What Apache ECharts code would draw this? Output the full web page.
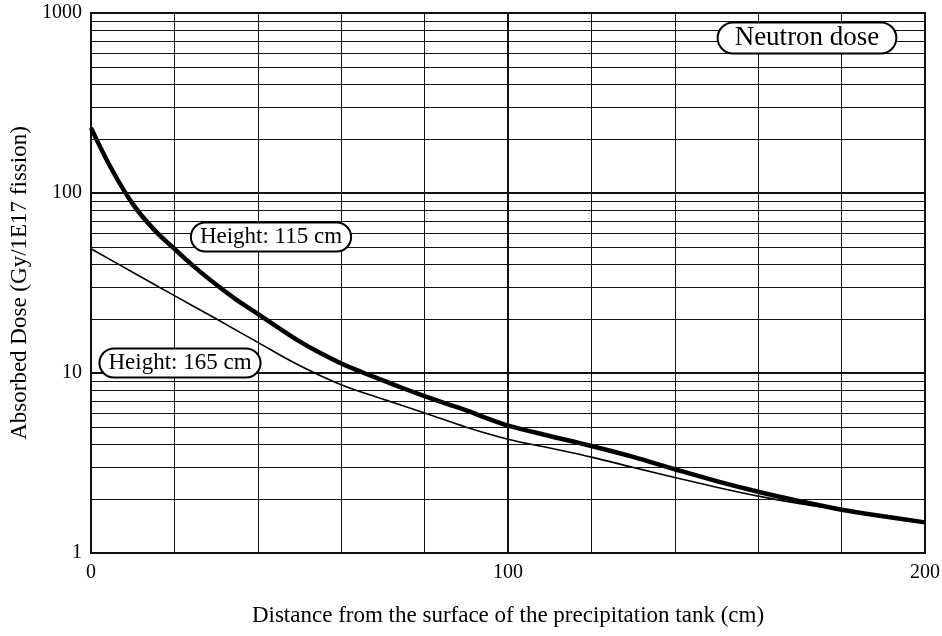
<!DOCTYPE html>
<html>
<head>
<meta charset="utf-8">
<script src="https://cdn.jsdelivr.net/npm/echarts@6/dist/echarts.min.js"></script>
<style>
  html, body { margin: 0; padding: 0; background: #fff; }
  #chart { width: 942px; height: 636px; }
</style>
</head>
<body>
<div id="chart"></div>
<script>
// Neutron absorbed dose vs distance from the precipitation tank surface
const dist115 = [0, 5, 10, 15, 20, 25, 30, 35, 40, 45, 50, 55, 60, 65, 70, 75, 80, 85, 90, 95, 100,
                 110, 120, 130, 140, 150, 160, 170, 180, 190, 200];
const dose115 = [230, 135, 87, 63, 49, 38.5, 31, 25.4, 21.3, 17.8, 15.0, 12.9, 11.3, 10.1, 9.1, 8.2, 7.45, 6.78, 6.2, 5.6, 5.1,
                 4.47, 3.93, 3.42, 2.92, 2.51, 2.19, 1.94, 1.74, 1.6, 1.48];

const dist165 = [0, 10, 20, 30, 40, 50, 60, 70, 80, 90, 100, 110, 120, 130, 140, 150, 160, 170, 180, 190, 200];
const dose165 = [49, 36.3, 26.9, 20, 14.8, 11.0, 8.6, 7.16, 6.0, 5.0, 4.29, 3.83, 3.41, 2.99, 2.63, 2.32, 2.07, 1.88, 1.74, 1.6, 1.48];

// minor log grid lines (2..9 in each decade)
const minorDoses = [2, 3, 4, 5, 6, 7, 8, 9, 20, 30, 40, 50, 60, 70, 80, 90, 200, 300, 400, 500, 600, 700, 800, 900];
const xLabelValues = [0, 100, 200];

const yTitle = 'Absorbed Dose (Gy/1E17 fission)';
const xTitle = 'Distance from the surface of the precipitation tank (cm)';
const label115 = 'Height: 115 cm';
const label165 = 'Height: 165 cm';
const labelKind = 'Neutron dose';

const FONT = '"Liberation Serif", "Times New Roman", serif';
const INK = '#111';

const pair = (xs, ys) => xs.map((x, i) => [x, ys[i]]);

const chart = echarts.init(document.getElementById('chart'), null, { renderer: 'canvas' });

// rounded, white-filled caption box
const tag = (text, x, y, size, pad, radius) => ({
  type: 'text',
  x: x, y: y, z: 100,
  style: {
    text: text,
    fontFamily: FONT,
    fontSize: size,
    fill: '#000',
    align: 'center',
    verticalAlign: 'middle',
    backgroundColor: '#fff',
    borderColor: '#000',
    borderWidth: 2,
    borderRadius: radius,
    padding: pad
  }
});

chart.setOption({
  animation: false,
  backgroundColor: '#fff',
  grid: {
    left: 91, right: 17, top: 13, bottom: 83,
    containLabel: false,
    outerBoundsMode: 'none',
    show: true, borderColor: INK, borderWidth: 2, backgroundColor: 'transparent'
  },
  xAxis: {
    type: 'value', min: 0, max: 200, interval: 20,
    name: xTitle, nameLocation: 'middle', nameGap: 51,
    nameTextStyle: { fontFamily: FONT, fontSize: 23, color: '#000' },
    axisLine: { show: true, lineStyle: { color: INK, width: 2 } },
    axisTick: { show: false },
    axisLabel: {
      fontFamily: FONT, fontSize: 20, color: '#000', margin: 10,
      formatter: v => (xLabelValues.indexOf(v) >= 0 ? String(v) : '')
    },
    splitLine: { show: true, lineStyle: { color: INK, width: 1 } }
  },
  yAxis: {
    type: 'log', logBase: 10, min: 1, max: 1000,
    name: yTitle, nameLocation: 'middle', nameGap: 57, nameRotate: 90,
    nameTextStyle: { fontFamily: FONT, fontSize: 23, color: '#000' },
    axisLine: { show: true, lineStyle: { color: INK, width: 2 } },
    axisTick: { show: false },
    axisLabel: { fontFamily: FONT, fontSize: 20, color: '#000', margin: 9, formatter: v => String(v) },
    splitLine: { show: true, lineStyle: { color: INK, width: 2 } }
  },
  series: [
    {
      name: 'grid',
      type: 'line',
      data: [],
      silent: true,
      z: 1,
      markLine: {
        silent: true,
        symbol: ['none', 'none'],
        label: { show: false },
        lineStyle: { color: INK, width: 1, type: 'solid' },
        data: minorDoses.map(v => ({ yAxis: v }))
          .concat([{ xAxis: 100, lineStyle: { width: 2 } }])
      }
    },
    {
      name: label165,
      type: 'line',
      data: pair(dist165, dose165),
      smooth: 0.4,
      showSymbol: false,
      z: 3,
      lineStyle: { color: '#000', width: 1.6 }
    },
    {
      name: label115,
      type: 'line',
      data: pair(dist115, dose115),
      smooth: 0.4,
      showSymbol: false,
      z: 4,
      lineStyle: { color: '#000', width: 4.5 }
    }
  ],
  graphic: [
    tag(labelKind, 807, 38, 27, [1, 16, 1, 16], 16),
    tag(label115, 271, 237, 23, [2, 8, 2, 8], 15),
    tag(label165, 180, 363, 23, [2, 8, 2, 8], 15)
  ]
});
</script>
</body>
</html>
